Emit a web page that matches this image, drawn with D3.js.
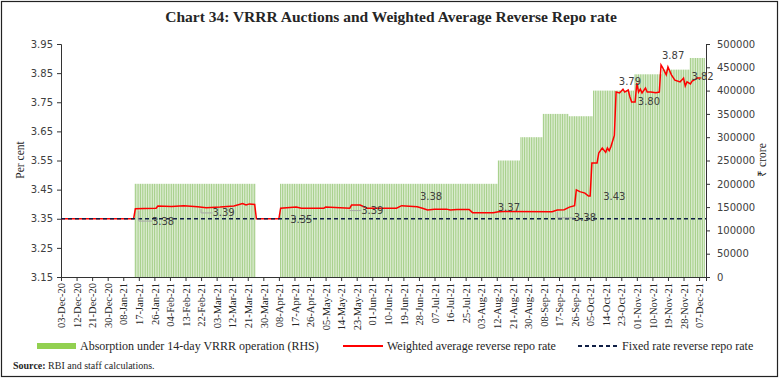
<!DOCTYPE html>
<html>
<head>
<meta charset="utf-8">
<script src="https://cdn.jsdelivr.net/npm/d3@7"></script>
<style>
    body { margin: 0; background: #fff; }
    .tickLabel { font-family: "DejaVu Sans", Verdana, sans-serif; font-size: 10px; fill: #404040; }
    .dateLabel { font-family: "Liberation Serif", serif; font-size: 10.5px; fill: #262626; }
    .axisTitle { font-family: "Liberation Serif", serif; font-size: 11.5px; fill: #262626; }
    .legendText { font-family: "Liberation Serif", serif; font-size: 12px; fill: #262626; }
    .dataLabel { font-family: "DejaVu Sans", Verdana, sans-serif; font-size: 10px; fill: #404040; }
</style>
</head>
<body>
<div id="chart"></div>
<script>
// x axis tick labels (every 9 days)
var xTickLabels = ["03-Dec-20","12-Dec-20","21-Dec-20","30-Dec-20","08-Jan-21","17-Jan-21","26-Jan-21",
    "04-Feb-21","13-Feb-21","22-Feb-21","03-Mar-21","12-Mar-21","21-Mar-21","30-Mar-21","08-Apr-21",
    "17-Apr-21","26-Apr-21","05-May-21","14-May-21","23-May-21","01-Jun-21","10-Jun-21","19-Jun-21",
    "28-Jun-21","07-Jul-21","16-Jul-21","25-Jul-21","03-Aug-21","12-Aug-21","21-Aug-21","30-Aug-21",
    "08-Sep-21","17-Sep-21","26-Sep-21","05-Oct-21","14-Oct-21","23-Oct-21","01-Nov-21","10-Nov-21",
    "19-Nov-21","28-Nov-21","07-Dec-21"];
var xDomain = ["03-Dec-20", "11-Dec-21"];

var leftTicks = [3.15, 3.25, 3.35, 3.45, 3.55, 3.65, 3.75, 3.85, 3.95];
var rightTicks = [0, 50000, 100000, 150000, 200000, 250000, 300000, 350000, 400000, 450000, 500000];

// 14-day VRRR absorption (Rs crore), one level per auction window
var vrrrStart  = ["15-Jan-21","09-Apr-21","13-Aug-21","26-Aug-21","08-Sep-21","23-Sep-21","07-Oct-21","31-Oct-21","16-Nov-21","02-Dec-21"];
var vrrrEnd    = ["25-Mar-21","12-Aug-21","25-Aug-21","07-Sep-21","22-Sep-21","06-Oct-21","30-Oct-21","15-Nov-21","01-Dec-21","10-Dec-21"];
var vrrrAmount = [200000, 200000, 250000, 300000, 350000, 345000, 400000, 435000, 445000, 470000];

// weighted average reverse repo rate (per cent)
var rateDates = ["03-Dec-20","14-Jan-21","15-Jan-21","20-Jan-21","27-Jan-21","28-Jan-21","05-Feb-21","12-Feb-21",
    "20-Feb-21","25-Feb-21","05-Mar-21","13-Mar-21","18-Mar-21","20-Mar-21","22-Mar-21","25-Mar-21","26-Mar-21",
    "08-Apr-21","09-Apr-21","18-Apr-21","21-Apr-21","04-May-21","05-May-21","19-May-21","20-May-21","25-May-21",
    "29-May-21","15-Jun-21","18-Jun-21","27-Jun-21","30-Jun-21","03-Jul-21","07-Jul-21","14-Jul-21","16-Jul-21",
    "20-Jul-21","27-Jul-21","29-Jul-21","10-Aug-21","13-Aug-21","16-Aug-21","13-Sep-21","16-Sep-21","20-Sep-21",
    "23-Sep-21","26-Sep-21","27-Sep-21","29-Sep-21","02-Oct-21","04-Oct-21","05-Oct-21","06-Oct-21","09-Oct-21",
    "10-Oct-21","12-Oct-21","14-Oct-21","15-Oct-21","16-Oct-21","17-Oct-21","19-Oct-21","20-Oct-21","22-Oct-21",
    "24-Oct-21","25-Oct-21","27-Oct-21","28-Oct-21","29-Oct-21","31-Oct-21","01-Nov-21","02-Nov-21","03-Nov-21",
    "04-Nov-21","06-Nov-21","07-Nov-21","09-Nov-21","12-Nov-21","14-Nov-21","15-Nov-21","16-Nov-21","18-Nov-21",
    "19-Nov-21","21-Nov-21","23-Nov-21","26-Nov-21","27-Nov-21","28-Nov-21","29-Nov-21","30-Nov-21","02-Dec-21",
    "03-Dec-21","04-Dec-21","06-Dec-21","08-Dec-21"];
var rateValues = [3.35,3.35,3.384,3.385,3.386,3.394,3.392,3.395,
    3.391,3.388,3.390,3.394,3.402,3.397,3.401,3.399,3.35,
    3.35,3.386,3.390,3.386,3.386,3.390,3.386,3.397,3.397,
    3.386,3.386,3.395,3.391,3.386,3.380,3.383,3.383,3.380,
    3.382,3.382,3.371,3.371,3.374,3.375,3.374,3.380,3.381,
    3.390,3.395,3.449,3.443,3.438,3.428,3.428,3.541,3.541,
    3.576,3.593,3.578,3.593,3.584,3.597,3.636,3.785,3.782,
    3.795,3.785,3.792,3.768,3.751,3.751,3.816,3.785,3.795,
    3.782,3.799,3.785,3.785,3.783,3.785,3.878,3.868,3.844,
    3.871,3.844,3.826,3.820,3.826,3.833,3.806,3.820,3.813,
    3.823,3.826,3.833,3.833];

var fixedRate = 3.35;

// data labels as printed on the chart, anchored in chart units (date, per cent)
var labelTexts = ["3.38","3.39","3.35","3.39","3.38","3.37","3.38","3.43","3.79","3.80","3.87","3.82"];
var labelDates = ["31-Jan-21","07-Mar-21","21-Apr-21","01-Jun-21","05-Jul-21","19-Aug-21","02-Oct-21","19-Oct-21","28-Oct-21","08-Nov-21","22-Nov-21","09-Dec-21"];
var labelRates = [3.342, 3.370, 3.346, 3.378, 3.425, 3.387, 3.353, 3.428, 3.820, 3.751, 3.909, 3.837];
// leader lines: from the point on the line to the label
var leaderFrom = ["17-Jan-21","22-Feb-21","19-May-21","16-Sep-21"];
var leaderTo   = [0, 1, 3, 6];

var legendNames = ["Absorption under 14-day VRRR operation (RHS)", "Weighted average reverse repo rate", "Fixed rate reverse repo rate"];

var parse = d3.timeParse("%d-%b-%y");

function VrrrChart(){
    var self = this;
    self.init();
}

VrrrChart.prototype.init = function(){
    var self = this;
    self.width = 782;
    self.height = 382;
    self.plot = {left: 61, right: 706, top: 44, bottom: 277};

    self.svg = d3.select("#chart").append("svg")
        .attr("width", self.width)
        .attr("height", self.height);

    self.x = d3.scaleTime()
        .domain(xDomain.map(parse))
        .range([self.plot.left, self.plot.right]);
    self.yLeft = d3.scaleLinear()
        .domain([3.15, 3.95])
        .range([self.plot.bottom, self.plot.top]);
    self.yRight = d3.scaleLinear()
        .domain([0, 500000])
        .range([self.plot.bottom, self.plot.top]);
};

VrrrChart.prototype.update = function(){
    var self = this;
    var svg = self.svg;
    var x = self.x, yL = self.yLeft, yR = self.yRight;

    //outer frame
    svg.append("rect")
        .attr("x", 1.5).attr("y", 1.5)
        .attr("width", 776).attr("height", 375)
        .attr("fill", "none")
        .attr("stroke", "#222")
        .attr("stroke-width", 1.2);

    svg.append("text")
        .attr("x", 391).attr("y", 22)
        .attr("text-anchor", "middle")
        .style("font-family", "'Liberation Serif', serif")
        .style("font-weight", "bold")
        .style("font-size", "15.5px")
        .style("fill", "#262626")
        .text("Chart 34: VRRR Auctions and Weighted Average Reverse Repo rate");

    //daily bars for every auction window
    var dayW = x(parse("04-Dec-20")) - x(parse("03-Dec-20"));
    var bars = [];
    vrrrStart.forEach(function(s, i){
        d3.timeDay.range(parse(s), d3.timeDay.offset(parse(vrrrEnd[i]), 1)).forEach(function(d){
            bars.push({date: d, value: vrrrAmount[i]});
        });
    });

    svg.append("g").selectAll("rect")
        .data(bars)
        .enter()
        .append("rect")
        .attr("x", function(d){ return x(d.date) - dayW * 0.35; })
        .attr("width", dayW * 0.7)
        .attr("y", function(d){ return yR(d.value); })
        .attr("height", function(d){ return yR(0) - yR(d.value); })
        .attr("fill", "#a9d18e");

    //axes
    var gLeft = svg.append("g").attr("transform", "translate(" + self.plot.left + ",0)")
        .call(d3.axisLeft(yL).tickValues(leftTicks).tickFormat(d3.format(".2f")).tickSize(4).tickPadding(4));
    var gRight = svg.append("g").attr("transform", "translate(" + self.plot.right + ",0)")
        .call(d3.axisRight(yR).tickValues(rightTicks).tickFormat(d3.format("d")).tickSize(4).tickPadding(7));
    var gBottom = svg.append("g").attr("transform", "translate(0," + self.plot.bottom + ")")
        .call(d3.axisBottom(x).tickValues(xTickLabels.map(parse)).tickFormat(d3.timeFormat("%d-%b-%y")).tickSize(4));

    [gLeft, gRight, gBottom].forEach(function(g){
        g.select(".domain").attr("stroke", "#333");
        g.selectAll(".tick line").attr("stroke", "#333");
    });
    gLeft.selectAll("text").attr("class", "tickLabel").attr("fill", null);
    gRight.selectAll("text").attr("class", "tickLabel").attr("fill", null);
    gBottom.selectAll("text")
        .attr("class", "dateLabel")
        .attr("fill", null)
        .attr("transform", "rotate(-90)")
        .attr("text-anchor", "end")
        .attr("x", -6)
        .attr("y", 0)
        .attr("dy", "0.35em");

    svg.append("text")
        .attr("class", "axisTitle")
        .attr("transform", "translate(24,160) rotate(-90)")
        .attr("text-anchor", "middle")
        .text("Per cent");
    svg.append("text")
        .attr("class", "axisTitle")
        .attr("transform", "translate(766,160) rotate(-90)")
        .attr("text-anchor", "middle")
        .text("\u20b9 crore");

    //weighted average rate
    var rate = rateDates.map(function(d, i){ return {date: parse(d), value: rateValues[i]}; });
    var line = d3.line()
        .x(function(d){ return x(d.date); })
        .y(function(d){ return yL(d.value); });

    svg.append("path")
        .datum(rate)
        .attr("d", line)
        .attr("fill", "none")
        .attr("stroke", "#ff0000")
        .attr("stroke-width", 1.5);

    //fixed rate reverse repo
    svg.append("line")
        .attr("x1", x.range()[0]).attr("x2", x.range()[1])
        .attr("y1", yL(fixedRate)).attr("y2", yL(fixedRate))
        .attr("stroke", "#0f1f45")
        .attr("stroke-width", 1.6)
        .attr("stroke-dasharray", "4,3");

    //leader lines
    leaderFrom.forEach(function(s, i){
        var d = parse(s);
        var k = leaderTo[i];
        var px = x(d);
        var py = yL(rate.filter(function(r){ return r.date <= d; }).pop().value) + 2;
        var lx = x(parse(labelDates[k])) - 11;
        var ly = yL(labelRates[k]);
        svg.append("path")
            .attr("d", "M" + px + "," + py + "L" + px + "," + ly + "L" + lx + "," + ly)
            .attr("fill", "none")
            .attr("stroke", "#a6a6a6")
            .attr("stroke-width", 1);
    });

    svg.append("g").selectAll("text")
        .data(labelTexts)
        .enter()
        .append("text")
        .attr("class", "dataLabel")
        .attr("x", function(d, i){ return x(parse(labelDates[i])); })
        .attr("y", function(d, i){ return yL(labelRates[i]); })
        .attr("dy", "0.35em")
        .attr("text-anchor", "middle")
        .text(function(d){ return d; });

    //legend
    var lg = svg.append("g").attr("transform", "translate(0,346)");
    lg.append("rect").attr("x", 37).attr("y", -3).attr("width", 39).attr("height", 6).attr("fill", "#92d050");
    lg.append("text").attr("class", "legendText").attr("x", 80).attr("y", 4).text(legendNames[0]);
    lg.append("line").attr("x1", 343).attr("x2", 383).attr("y1", 0).attr("y2", 0)
        .attr("stroke", "#ff0000").attr("stroke-width", 1.8);
    lg.append("text").attr("class", "legendText").attr("x", 387).attr("y", 4).text(legendNames[1]);
    lg.append("line").attr("x1", 578).attr("x2", 618).attr("y1", 0).attr("y2", 0)
        .attr("stroke", "#0f1f45").attr("stroke-width", 1.8).attr("stroke-dasharray", "4,3");
    lg.append("text").attr("class", "legendText").attr("x", 622).attr("y", 4).text(legendNames[2]);

    var src = svg.append("text")
        .attr("x", 13).attr("y", 369)
        .style("font-family", "'Liberation Serif', serif")
        .style("font-size", "10px")
        .style("fill", "#262626");
    src.append("tspan").style("font-weight", "bold").text("Source:");
    src.append("tspan").text(" RBI and staff calculations.");
};

var chart = new VrrrChart();
chart.update();
</script>
</body>
</html>
